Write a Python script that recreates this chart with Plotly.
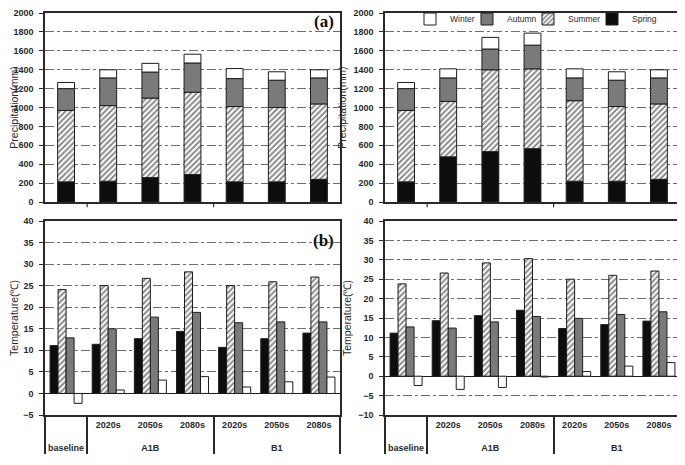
import numpy as np
import plotly.graph_objects as go

# ---------------- data ----------------
periods = ["baseline", "A1B 2020s", "A1B 2050s", "A1B 2080s", "B1 2020s", "B1 2050s", "B1 2080s"]
scenario_labels = ["baseline", "A1B", "A1B", "A1B", "B1", "B1", "B1"]
decade_labels = [" ", "2020s", "2050s", "2080s", "2020s", "2050s", "2080s"]
seasons = ["Spring", "Summer", "Autumn", "Winter"]

# (a) precipitation (mm), left panel
precip_left_spring = [213, 220, 258, 290, 213, 213, 240]
precip_left_summer = [756, 800, 842, 872, 797, 787, 798]
precip_left_autumn = [231, 293, 275, 309, 296, 289, 275]
precip_left_winter = [65, 86, 92, 93, 106, 89, 86]

# (a) precipitation (mm), right panel
precip_right_spring = [213, 478, 533, 564, 220, 220, 240]
precip_right_summer = [756, 587, 866, 845, 852, 790, 798]
precip_right_autumn = [231, 248, 220, 251, 241, 279, 275]
precip_right_winter = [65, 96, 123, 127, 96, 89, 86]

# (b) temperature (deg C), left panel
temp_left_spring = [11.1, 11.4, 12.7, 14.4, 10.7, 12.7, 14.0]
temp_left_summer = [24.1, 25.0, 26.7, 28.2, 25.0, 25.9, 27.0]
temp_left_autumn = [12.9, 15.0, 17.7, 18.8, 16.4, 16.6, 16.6]
temp_left_winter = [-2.3, 0.8, 3.1, 3.9, 1.5, 2.7, 3.8]

# (b) temperature (deg C), right panel
temp_right_spring = [11.1, 14.3, 15.6, 17.0, 12.3, 13.3, 14.2]
temp_right_summer = [23.8, 26.6, 29.2, 30.3, 25.0, 26.0, 27.1]
temp_right_autumn = [12.7, 12.4, 14.0, 15.4, 14.9, 15.9, 16.6]
temp_right_winter = [-2.4, -3.4, -2.9, -0.2, 1.2, 2.6, 3.5]

# ---------------- geometry ----------------
# page body has an 8px default margin, so the figure is drawn 8px in from the window corner
OFF = 8
W, H = 685 - OFF, 465 - OFF

def fx(px):
    return min(1.0, max(0.0, (px - OFF) / W))

def fy(py):
    return min(1.0, max(0.0, 1 - (py - OFF) / H))

dom_left = [fx(45), fx(340)]
dom_right = [fx(385), fx(680)]
dom_top = [fy(202), fy(13)]
dom_bot = [fy(415), fy(221)]

# ---------------- styles ----------------
OUTLINE = dict(color="#1e1e1e", width=1)
season_marker = {
    "Spring": dict(color="#0d0d0d", line=OUTLINE),
    "Summer": dict(color="white", line=OUTLINE,
                   pattern=dict(shape="/", fgcolor="#151515", bgcolor="white",
                                size=4, solidity=0.5)),
    "Autumn": dict(color="#7a7a7a", line=OUTLINE),
    "Winter": dict(color="white", line=OUTLINE),
}
legend_ids = {"Winter": "legend", "Autumn": "legend2", "Summer": "legend3", "Spring": "legend4"}
legend_left_px = {"Winter": 410, "Autumn": 467, "Summer": 528, "Spring": 592}

tickfont = dict(family="Arial", size=9, color="#2a2a2a", weight="bold")
titlefont = dict(family="Arial", size=10.5, color="#2a2a2a")
legfont = dict(family="Arial", size=8.5, color="#2a2a2a")

fig = go.Figure()

# stacked precipitation panels
for xa, ya, series, legend in [
    ("x", "y", [precip_left_spring, precip_left_summer, precip_left_autumn, precip_left_winter], False),
    ("x2", "y2", [precip_right_spring, precip_right_summer, precip_right_autumn, precip_right_winter], True),
]:
    base = np.zeros(len(periods))
    for name, vals in zip(seasons, series):
        vals = np.array(vals, dtype=float)
        fig.add_trace(go.Bar(
            x=periods, y=vals, base=base.copy(), name=name, width=0.4,
            offsetgroup="stack", marker=season_marker[name],
            xaxis=xa, yaxis=ya, showlegend=legend, legend=legend_ids[name],
        ))
        base = base + vals

# grouped temperature panels
outer_labels = ["<br>" + s for s in scenario_labels]
for xa, ya, series in [
    ("x3", "y3", [temp_left_spring, temp_left_summer, temp_left_autumn, temp_left_winter]),
    ("x4", "y4", [temp_right_spring, temp_right_summer, temp_right_autumn, temp_right_winter]),
]:
    for name, vals in zip(seasons, series):
        fig.add_trace(go.Bar(
            x=[outer_labels, decade_labels], y=vals, name=name,
            marker=season_marker[name], xaxis=xa, yaxis=ya,
            showlegend=False,
        ))

# ---------------- layout ----------------
yaxis_common = dict(
    showline=True, linecolor="#2a2a2a", linewidth=1.5, mirror=True,
    ticks="outside", ticklen=4, tickcolor="#2a2a2a", tickfont=tickfont,
    ticklabelstandoff=4, ticklabeloverflow="allow",
    showgrid=True, gridcolor="#6e6e6e", gridwidth=1, griddash="dashdot",
)
xtop_common = dict(
    type="category", categoryorder="array", categoryarray=periods,
    range=[-0.5, 6.5], showline=True, linecolor="#2a2a2a", linewidth=1.5,
    mirror=True, showticklabels=False, ticks="", showgrid=False,
)
xbot_common = dict(
    type="multicategory", showline=True, linecolor="#2a2a2a", linewidth=1.5,
    mirror=True, ticks="", showgrid=False, tickfont=tickfont,
    showdividers=True, dividercolor="#2a2a2a", dividerwidth=1.5,
)

legends = {}
for name, lid in legend_ids.items():
    legends[lid] = dict(orientation="h", x=fx(legend_left_px[name]), y=fy(19),
                        xanchor="left", yanchor="middle", font=legfont,
                        bgcolor="rgba(0,0,0,0)", itemwidth=30, borderwidth=0)

fig.update_layout(
    width=W, height=H, margin=dict(l=0, r=0, t=0, b=0, autoexpand=False),
    paper_bgcolor="white", plot_bgcolor="white",
    barmode="group", bargap=0.24, bargroupgap=0,
    font=dict(family="Arial", color="#2a2a2a"),
    xaxis=dict(domain=dom_left, anchor="y", **xtop_common),
    xaxis2=dict(domain=dom_right, anchor="y2", **xtop_common),
    xaxis3=dict(domain=dom_left, anchor="y3", **xbot_common),
    xaxis4=dict(domain=dom_right, anchor="y4", **xbot_common),
    yaxis=dict(domain=dom_top, anchor="x", range=[0, 2000], dtick=200, zeroline=False,
               title=dict(text="Precipitation(mm)", font=titlefont, standoff=2), **yaxis_common),
    yaxis2=dict(domain=dom_top, anchor="x2", range=[0, 2000], dtick=200, zeroline=False,
                title=dict(text="Precipitation(mm)", font=titlefont, standoff=5), **yaxis_common),
    yaxis3=dict(domain=dom_bot, anchor="x3", range=[-5, 40], dtick=5,
                zeroline=True, zerolinecolor="#1e1e1e", zerolinewidth=1,
                title=dict(text="Temperature(℃)", font=titlefont, standoff=4), **yaxis_common),
    yaxis4=dict(domain=dom_bot, anchor="x4", range=[-10, 40], dtick=5,
                zeroline=True, zerolinecolor="#1e1e1e", zerolinewidth=1,
                title=dict(text="Temperature(℃)", font=titlefont, standoff=4), **yaxis_common),
    **legends,
)

# group separator ticks under the precipitation panels
shapes = []
for xr, yr in [("x", "y domain"), ("x2", "y2 domain")]:
    for xv in [0.5, 3.5]:
        shapes.append(dict(type="line", xref=xr, yref=yr, x0=xv, x1=xv, y0=0, y1=-0.028,
                           line=dict(color="#2a2a2a", width=1.2)))
fig.update_layout(shapes=shapes)

fig.add_annotation(text="(a)", xref="paper", yref="paper", x=fx(336), y=fy(22),
                   xanchor="right", yanchor="middle", showarrow=False,
                   font=dict(family="Liberation Serif", size=17, color="#111", weight="bold"))
fig.add_annotation(text="(b)", xref="paper", yref="paper", x=fx(336), y=fy(240),
                   xanchor="right", yanchor="middle", showarrow=False,
                   font=dict(family="Liberation Serif", size=17, color="#111", weight="bold"))

fig.write_html("out.html")
